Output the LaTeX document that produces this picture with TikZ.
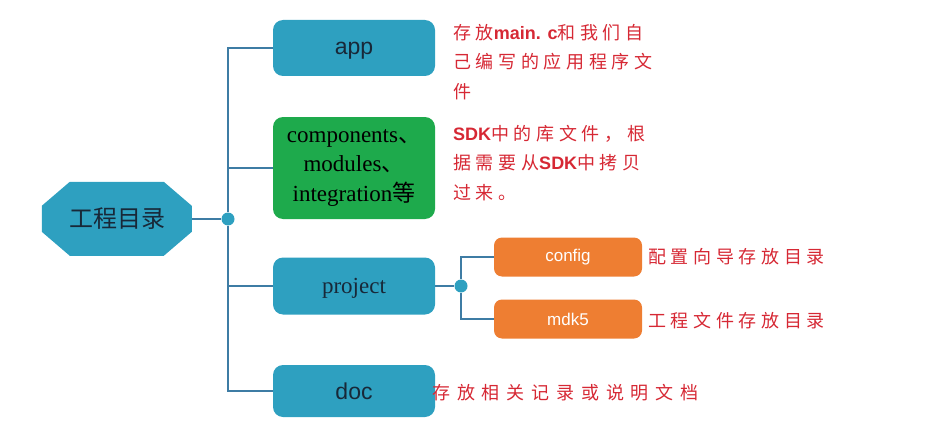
\documentclass[tikz,border=0pt]{standalone}
\usepackage{fontspec}
\setmainfont{Liberation Serif}
\setsansfont{Liberation Sans}
\newfontfamily\cjk{Noto Sans CJK SC}
\newfontfamily\cjknote[LetterSpace=26]{Noto Sans CJK SC}
\newfontfamily\cjkwide[LetterSpace=38]{Noto Sans CJK SC}
\usepackage{tikz}
\usetikzlibrary{backgrounds}
\definecolor{boxblue}{RGB}{46,160,192}
\definecolor{libgreen}{RGB}{30,170,76}
\definecolor{suborange}{RGB}{238,126,50}
\definecolor{notered}{RGB}{214,40,52}
\definecolor{linkblue}{RGB}{62,124,164}
\definecolor{inkdark}{RGB}{24,40,56}
\newcommand\notelatin[1]{{\sffamily\bfseries\fontsize{18}{29.5}\selectfont #1}}

\begin{document}
\begin{tikzpicture}[x=1pt, y=-1pt,
    root/.style={rectangle, text=inkdark, minimum width=150pt,
                 minimum height=74pt, inner sep=0pt,
                 font=\cjk\fontsize{24}{28}\selectfont},
    folder/.style={rectangle, rounded corners=10pt, fill=boxblue, text=inkdark,
                   minimum width=162pt, inner sep=0pt},
    libbox/.style={rectangle, rounded corners=10pt, fill=libgreen, text=black,
                   minimum width=162pt, minimum height=102pt, inner sep=0pt,
                   align=center, font=\fontsize{23}{29.5}\selectfont},
    subbox/.style={rectangle, rounded corners=8pt, fill=suborange, text=white,
                   minimum width=148pt, minimum height=39pt, inner sep=0pt,
                   font=\sffamily\fontsize{17}{20}\selectfont},
    note/.style={anchor=west, align=left, text=notered, inner sep=0pt,
                 font=\cjknote\fontsize{18}{29.5}\selectfont},
    link/.style={draw=linkblue, line width=1.2pt},
    hub/.style={circle, fill=boxblue, minimum size=13pt, inner sep=0pt}
  ]
    \useasboundingbox (0,0) rectangle (940,436);

    % root and first level
    \node[root] at (117,219) (workdir) {工程目录};
    \node[hub] at (228,219) (hubmain) {};
    \node[folder, minimum height=56pt, text depth=0pt,
          font=\sffamily\fontsize{23}{26}\selectfont] at (354,48) (app) {app};
    \node[libbox] at (354,168) (libs)
      {components{\cjk 、}\\modules{\cjk 、}\\integration{\cjk 等}};
    \node[folder, minimum height=57pt, text depth=0pt,
          font=\fontsize{23}{26}\selectfont] at (354,286) (project) {project};
    \node[folder, minimum height=52pt,
          font=\sffamily\fontsize{23}{26}\selectfont] at (354,391) (doc) {doc};

    % project sub folders
    \node[hub] at (461,286) (hubproj) {};
    \node[subbox] at (568,257) (config) {config};
    \node[subbox] at (568,319) (mdk) {mdk5};

    % notes
    \node[note] at (453,62) (appnote)
      {存放\notelatin{main. c}和我们自\\己编写的应用程序文\\件};
    \node[note] at (453,163) (libnote)
      {\notelatin{SDK}中的库文件，根\\据需要从\notelatin{SDK}中拷贝\\过来。};
    \node[note] at (648,257) (confignote) {配置向导存放目录};
    \node[note] at (648,321) (mdknote) {工程文件存放目录};
    \node[note, font=\cjkwide\fontsize{18}{29.5}\selectfont] at (432,393) (docnote)
      {存放相关记录或说明文档};

    \begin{scope}[on background layer]
      % octagon behind the root label
      \fill[boxblue] (workdir.north west) ++(28,0) -- ++(94,0) -- ++(28,24)
        -- ++(0,26) -- ++(-28,24) -- ++(-94,0) -- ++(-28,-24) -- ++(0,-26) -- cycle;
      \draw[link] (workdir) -- (hubmain);
      \draw[link] (app.west) -| (hubmain);
      \draw[link] (libs.west) -| (hubmain);
      \draw[link] (project.west) -| (hubmain);
      \draw[link] (doc.west) -| (hubmain);
      \draw[link] (project.east) -- (hubproj);
      \draw[link] (config.west) -| (hubproj);
      \draw[link] (mdk.west) -| (hubproj);
    \end{scope}
  \end{tikzpicture}
\end{document}
